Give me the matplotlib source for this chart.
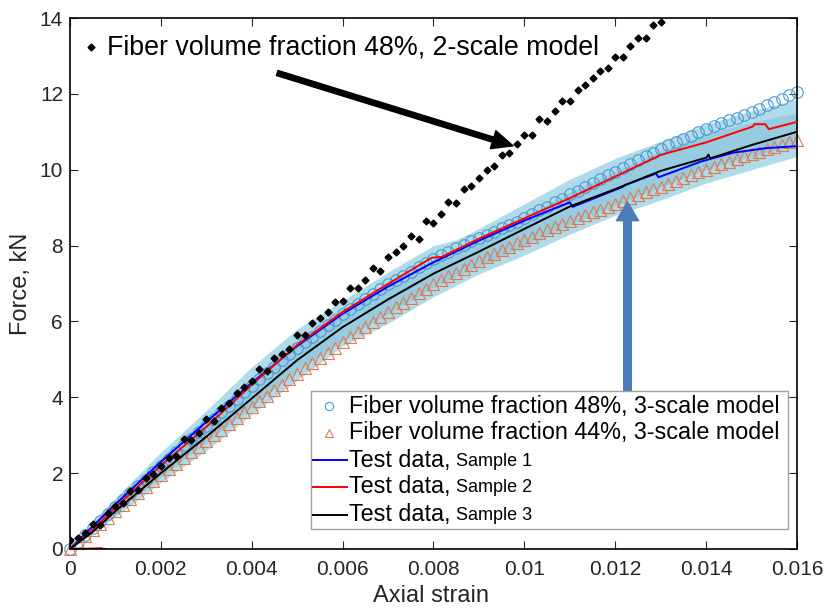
import numpy as np
import matplotlib.pyplot as plt

plt.rcParams['font.family'] = ['Liberation Sans', 'DejaVu Sans']

# Strain grid of the model markers (one marker every 1/6000 of strain)
strain_grid = [0, 0.00017, 0.00033, 0.0005, 0.00067, 0.00083,
               0.001, 0.00117, 0.00133, 0.0015, 0.00167, 0.00183,
               0.002, 0.00217, 0.00233, 0.0025, 0.00267, 0.00283,
               0.003, 0.00317, 0.00333, 0.0035, 0.00367, 0.00383,
               0.004, 0.00417, 0.00433, 0.0045, 0.00467, 0.00483,
               0.005, 0.00517, 0.00533, 0.0055, 0.00567, 0.00583,
               0.006, 0.00617, 0.00633, 0.0065, 0.00667, 0.00683,
               0.007, 0.00717, 0.00733, 0.0075, 0.00767, 0.00783,
               0.008, 0.00817, 0.00833, 0.0085, 0.00867, 0.00883,
               0.009, 0.00917, 0.00933, 0.0095, 0.00967, 0.00983,
               0.010, 0.01017, 0.01033, 0.0105, 0.01067, 0.01083,
               0.011, 0.01117, 0.01133, 0.0115, 0.01167, 0.01183,
               0.012, 0.01217, 0.01233, 0.0125, 0.01267, 0.01283,
               0.013, 0.01317, 0.01333, 0.0135, 0.01367, 0.01383,
               0.014, 0.01417, 0.01433, 0.0145, 0.01467, 0.01483,
               0.015, 0.01517, 0.01533, 0.0155, 0.01567, 0.01583,
               0.016]

# Fiber volume fraction 48%, 2-scale model (diamonds)
force_2scale = [0.24, 0.30, 0.42, 0.65, 0.63, 0.95, 1.13, 1.20, 1.53, 1.55,
                1.88, 1.97, 2.18, 2.41, 2.45, 2.89, 2.87, 3.06, 3.42, 3.38,
                3.73, 3.85, 4.10, 4.26, 4.42, 4.74, 4.68, 5.04, 5.15, 5.28,
                5.65, 5.63, 5.96, 6.10, 6.25, 6.51, 6.53, 6.89, 6.89, 7.08,
                7.41, 7.34, 7.71, 7.82, 7.98, 8.26, 8.18, 8.64, 8.59, 8.83,
                9.14, 9.11, 9.49, 9.56, 9.77, 9.99, 10.09, 10.39, 10.44, 10.69,
                10.91, 10.91, 11.33, 11.29, 11.55, 11.80, 11.82, 12.10, 12.23, 12.41,
                12.59, 12.69, 12.97, 12.96, 13.26, 13.46, 13.46, 13.82, 13.90]

# Fiber volume fraction 48%, 3-scale model (circles)
force_48 = [0, 0.18, 0.37, 0.55, 0.73, 0.92,
            1.10, 1.28, 1.47, 1.65, 1.83, 2.02,
            2.20, 2.38, 2.55, 2.73, 2.90, 3.08,
            3.25, 3.43, 3.60, 3.78, 3.95, 4.13,
            4.30, 4.47, 4.63, 4.80, 4.97, 5.13,
            5.30, 5.45, 5.60, 5.75, 5.90, 6.05,
            6.20, 6.33, 6.46, 6.59, 6.72, 6.85,
            6.98, 7.09, 7.20, 7.31, 7.43, 7.54,
            7.65, 7.74, 7.83, 7.93, 8.02, 8.11,
            8.20, 8.29, 8.37, 8.46, 8.55, 8.63,
            8.72, 8.82, 8.93, 9.03, 9.14, 9.24,
            9.35, 9.45, 9.55, 9.65, 9.75, 9.85,
            9.95, 10.05, 10.15, 10.25, 10.35, 10.45,
            10.55, 10.64, 10.73, 10.82, 10.90, 10.99,
            11.08, 11.15, 11.22, 11.30, 11.37, 11.45,
            11.52, 11.61, 11.70, 11.79, 11.87, 11.96,
            12.04]

# Fiber volume fraction 44%, 3-scale model (triangles)
force_44 = [0, 0.17, 0.33, 0.50, 0.67, 0.83,
            1.00, 1.16, 1.32, 1.48, 1.63, 1.79,
            1.95, 2.10, 2.25, 2.40, 2.55, 2.70,
            2.85, 3.00, 3.15, 3.30, 3.45, 3.60,
            3.75, 3.90, 4.04, 4.19, 4.33, 4.48,
            4.62, 4.76, 4.90, 5.04, 5.17, 5.31,
            5.45, 5.58, 5.72, 5.85, 5.98, 6.12,
            6.25, 6.37, 6.49, 6.62, 6.74, 6.86,
            6.98, 7.08, 7.19, 7.29, 7.39, 7.50,
            7.60, 7.69, 7.78, 7.88, 7.97, 8.06,
            8.15, 8.23, 8.32, 8.40, 8.48, 8.57,
            8.65, 8.73, 8.80, 8.88, 8.95, 9.03,
            9.10, 9.18, 9.25, 9.33, 9.40, 9.48,
            9.55, 9.63, 9.70, 9.78, 9.85, 9.93,
            10.00, 10.07, 10.14, 10.21, 10.28, 10.35,
            10.42, 10.48, 10.54, 10.60, 10.66, 10.72,
            10.78]

# Test data
strain_s1 = [0, 0.0005, 0.001, 0.002, 0.003, 0.004, 0.005, 0.006, 0.007, 0.008,
             0.009, 0.010, 0.0110, 0.01106, 0.01217, 0.01222, 0.0129, 0.01295,
             0.0139, 0.0146, 0.01533, 0.016]
force_s1 = [0, 0.6, 1.18, 2.3, 3.35, 4.38, 5.35, 6.2, 6.92, 7.56,
            8.13, 8.66, 9.14, 9.02, 9.55, 9.6, 9.9, 9.8,
            10.22, 10.45, 10.57, 10.62]
strain_s2 = [0.0007, 0, 0.0005, 0.001, 0.002, 0.003, 0.004, 0.005, 0.006, 0.007,
             0.00796, 0.00818, 0.009, 0.010, 0.011, 0.012, 0.013, 0.014,
             0.01503, 0.01506, 0.0153, 0.01538, 0.016]
force_s2 = [0.02, 0, 0.5, 1.1, 2.2, 3.22, 4.33, 5.38, 6.25, 6.99,
            7.68, 7.7, 8.18, 8.72, 9.25, 9.82, 10.39, 10.72,
            11.14, 11.2, 11.2, 11.07, 11.26]
strain_s3 = [0.00078, 0, 0.0005, 0.001, 0.002, 0.003, 0.004, 0.005, 0.006, 0.007,
             0.008, 0.009, 0.010, 0.011, 0.012, 0.013, 0.01401, 0.01405, 0.01409,
             0.015, 0.016]
force_s3 = [0.0, 0, 0.45, 1.0, 2.0, 2.96, 3.97, 4.98, 5.85, 6.58,
            7.26, 7.84, 8.44, 9.03, 9.49, 9.97, 10.32, 10.4, 10.3,
            10.65, 11.0]

# Scatter band of the 3-scale model
band_strain = [0, 0.001, 0.002, 0.003, 0.004, 0.005, 0.006, 0.007, 0.008, 0.0085,
               0.009, 0.010, 0.011, 0.012, 0.013, 0.014, 0.015, 0.016]
outer_hi = [0.1, 1.35, 2.55, 3.65, 4.8, 5.8, 6.55, 7.3, 8.0, 8.15,
            8.45, 9.1, 9.75, 10.3, 10.75, 11.2, 11.55, 11.85]
outer_lo = [0, 0.85, 1.75, 2.6, 3.55, 4.45, 5.35, 5.95, 6.65, 6.95,
            7.25, 7.75, 8.3, 8.8, 9.2, 9.65, 10.0, 10.35]
inner_hi = [0.05, 1.25, 2.4, 3.45, 4.5, 5.5, 6.3, 7.0, 7.65, 7.95,
            8.2, 8.75, 9.4, 9.95, 10.5, 10.95, 11.25, 11.5]
inner_lo = [0, 0.95, 1.9, 2.8, 3.75, 4.7, 5.5, 6.2, 6.9, 7.2,
            7.45, 8.0, 8.55, 9.05, 9.55, 10.0, 10.35, 10.65]

xtick_vals = [0, 0.002, 0.004, 0.006, 0.008, 0.010, 0.012, 0.014, 0.016]
xtick_labels = ["0", "0.002", "0.004", "0.006", "0.008", "0.01", "0.012", "0.014", "0.016"]
ytick_vals = [0, 2, 4, 6, 8, 10, 12, 14]

W, H = 829, 613
fig = plt.figure(figsize=(W / 100, H / 100), dpi=100)
ax = fig.add_axes([70 / W, 1 - 549 / H, 727 / W, 531 / H])

ax.fill_between(band_strain, outer_lo, outer_hi, color="#b0dbea", lw=0, zorder=1)
ax.fill_between(band_strain, inner_lo, inner_hi, color="#96cbe0", lw=0, zorder=1.1)

ax.plot(strain_grid, force_48, linestyle="none", marker="o", ms=8.3, mfc="none",
        mec="#4a98d2", mew=0.8, zorder=2, clip_on=False)
ax.plot(strain_grid, force_44, linestyle="none", marker="^", ms=8.3, mfc="none",
        mec="#e2794c", mew=0.8, zorder=2, clip_on=False)

ax.plot(strain_s1, force_s1, color="#0000ff", lw=1.4, zorder=3)
ax.plot(strain_s2, force_s2, color="#ff0000", lw=1.4, zorder=3)
ax.plot(strain_s3, force_s3, color="black", lw=1.4, zorder=3.1)

ax.plot(strain_grid[:len(force_2scale)], force_2scale, linestyle="none", marker="D",
        ms=3.5, color="black", zorder=4)

# Arrows
ax.annotate("", xy=(0.00975, 10.63), xytext=(0.00456, 12.55),
            arrowprops=dict(arrowstyle="simple,head_length=1.5,head_width=1.35,tail_width=0.38",
                            color="black", shrinkA=0, shrinkB=0, mutation_scale=10), zorder=5)
ax.annotate("", xy=(0.01227, 9.15), xytext=(0.01227, 4.18),
            arrowprops=dict(arrowstyle="simple,head_length=1.35,head_width=1.6,tail_width=0.55",
                            color="#4a7cba", shrinkA=0, shrinkB=0, mutation_scale=10), zorder=5)

ax.set_xlim(0, 0.016)
ax.set_ylim(0, 14)
ax.set_xticks(xtick_vals)
ax.set_xticklabels(xtick_labels)
ax.set_yticks(ytick_vals)
ax.tick_params(direction="in", length=6, width=0.8, top=True, right=True,
               labelsize=15, colors="#262626")
ax.tick_params(axis="x", pad=8)
ax.tick_params(axis="y", pad=5)
for s in ax.spines.values():
    s.set_linewidth(1.2)
    s.set_color("black")

ax.set_xlabel("Axial strain", fontsize=17, color="#262626")
ax.set_ylabel("Force, kN", fontsize=17, color="#262626")
ax.xaxis.set_label_coords(0.497, -0.068)
ax.yaxis.set_label_coords(-0.052, 0.5)

# Upper-left legend entry for the 2-scale model
def fx(px):
    return px / W

def fy(py):
    return 1 - py / H

fig.add_artist(plt.Line2D([fx(91)], [fy(47)], marker="D", ms=3.5, color="black",
                          linestyle="none", transform=fig.transFigure))
fig.text(fx(107), fy(47), "Fiber volume fraction 48%, 2-scale model", fontsize=19.3,
         va="center", ha="left", color="black")

# Lower-right legend box
fig.add_artist(plt.Rectangle((fx(311), fy(529)), fx(788) - fx(311), fy(391) - fy(529),
                             transform=fig.transFigure, fill=True, fc="white",
                             ec="#a0a0a0", lw=1.0, zorder=6))
rows = [406, 433, 460, 487, 515]
fig.add_artist(plt.Line2D([fx(329)], [fy(rows[0])], marker="o", ms=6, mfc="none",
                          mec="#4a98d2", mew=0.8, linestyle="none",
                          transform=fig.transFigure, zorder=7))
fig.add_artist(plt.Line2D([fx(329)], [fy(rows[1])], marker="^", ms=6, mfc="none",
                          mec="#e2794c", mew=0.8, linestyle="none",
                          transform=fig.transFigure, zorder=7))
for r, c in zip(rows[2:], ["#0000ff", "#ff0000", "black"]):
    fig.add_artist(plt.Line2D([fx(313), fx(347)], [fy(r), fy(r)], color=c, lw=1.4,
                              transform=fig.transFigure, zorder=7))
legend_main = ["Fiber volume fraction 48%, 3-scale model",
               "Fiber volume fraction 44%, 3-scale model",
               "Test data,", "Test data,", "Test data,"]
legend_small = ["", "", "Sample 1", "Sample 2", "Sample 3"]
for r, t, s in zip(rows, legend_main, legend_small):
    fig.text(fx(349), fy(r), t, fontsize=16.8, va="center", ha="left", zorder=8)
    if s:
        fig.text(fx(456), fy(r + 1), s, fontsize=13, va="center", ha="left", zorder=8)

fig.savefig("out.png", dpi=100)
